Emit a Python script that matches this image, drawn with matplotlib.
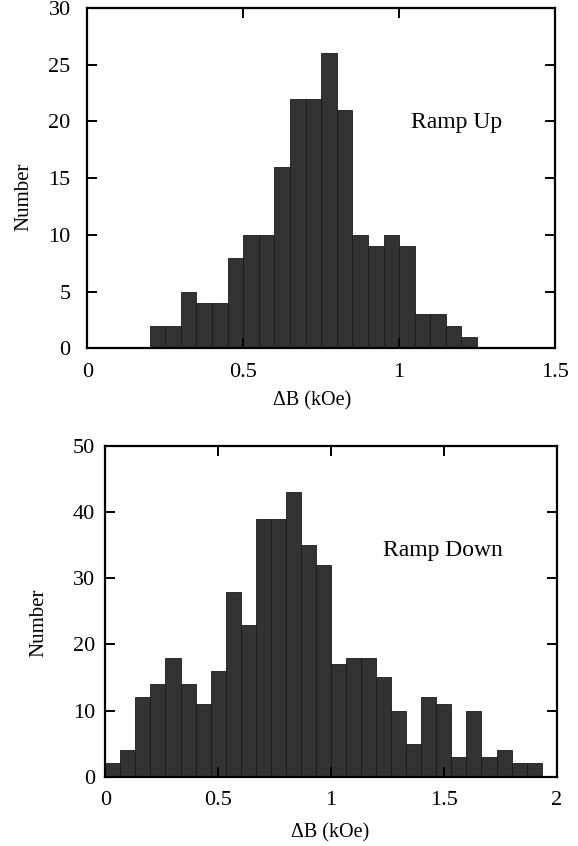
import numpy as np
import matplotlib
matplotlib.use("Agg")
import matplotlib.pyplot as plt

plt.rcParams['font.family'] = ['Liberation Serif', 'DejaVu Serif']

# Ramp Up histogram: bins of 0.05 kOe starting at 0.2 kOe
up_start = 0.2
up_width = 0.05
up_counts = [2, 2, 5, 4, 4, 8, 10, 10, 16, 22, 22, 26, 21, 10, 9, 10, 9, 3, 3, 2, 1]

# Ramp Down histogram: bins of 1/15 kOe starting at 0
down_start = 0.0
down_width = 1.0 / 15.0
down_counts = [2, 4, 12, 14, 18, 14, 11, 16, 28, 23, 39, 39, 43, 35, 32,
               17, 18, 18, 15, 10, 5, 12, 11, 3, 10, 3, 4, 2, 2]

up_xticks = [0, 0.5, 1, 1.5]
up_xticklabels = ['0', '0.5', '1', '1.5']
up_yticks = [0, 5, 10, 15, 20, 25, 30]
down_xticks = [0, 0.5, 1, 1.5, 2]
down_xticklabels = ['0', '0.5', '1', '1.5', '2']
down_yticks = [0, 10, 20, 30, 40, 50]

xlabel = 'ΔB (kOe)'
ylabel = 'Number'

W, H = 578, 846
fig = plt.figure(figsize=(W / 100, H / 100), dpi=100)

ax1 = fig.add_axes([87.3 / W, 1 - 348.3 / H, (555 - 87.3) / W, (348.3 - 8) / H])
ax2 = fig.add_axes([105.3 / W, 1 - 776.7 / H, (556.7 - 105.3) / W, (776.7 - 446) / H])

fc = '#333333'
tfs = 16

def style(ax, xticks, xlabels, yticks, xlim, ylim, xl_coords, yl_coords, ypad):
    ax.set_xlim(*xlim)
    ax.set_ylim(*ylim)
    ax.set_xticks(xticks)
    ax.set_xticklabels(xlabels)
    ax.set_yticks(yticks)
    ax.set_yticklabels([str(t) for t in yticks])
    ax.tick_params(direction='in', length=7.5, width=1.4, top=True, right=True,
                   labelsize=tfs)
    ax.tick_params(axis='x', pad=10.5)
    ax.tick_params(axis='y', pad=ypad)
    for s in ax.spines.values():
        s.set_linewidth(1.6)
    ax.set_xlabel(xlabel, fontsize=14.5)
    ax.set_ylabel(ylabel, fontsize=15)
    ax.xaxis.set_label_coords(*xl_coords)
    ax.yaxis.set_label_coords(*yl_coords)

up_left = up_start + up_width * np.arange(len(up_counts))
ax1.bar(up_left, up_counts, width=up_width, align='edge', color=fc,
        edgecolor='#1a1a1a', linewidth=0.6)
style(ax1, up_xticks, up_xticklabels, up_yticks, (0, 1.5), (0, 30),
      (0.48, -0.125), (-0.116, 0.446), 12)
ax1.text(1.038, 19.4, 'Ramp Up', fontsize=17, va='baseline', ha='left')

down_left = down_start + down_width * np.arange(len(down_counts))
ax2.bar(down_left, down_counts, width=down_width, align='edge', color=fc,
        edgecolor='#1a1a1a', linewidth=0.6)
style(ax2, down_xticks, down_xticklabels, down_yticks, (0, 2), (0, 50),
      (0.498, -0.14), (-0.127, 0.465), 7.5)
ax2.text(1.232, 33.4, 'Ramp Down', fontsize=17, va='baseline', ha='left')

fig.savefig('out.png', dpi=100)
